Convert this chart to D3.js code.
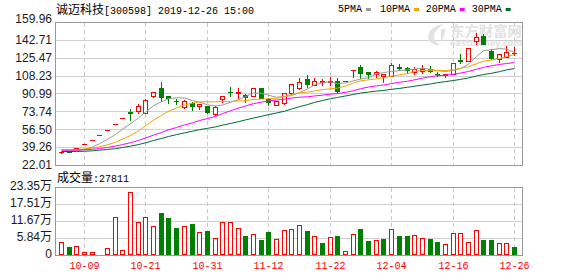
<!DOCTYPE html>
<html>
<head>
<meta charset="utf-8">
<script src="https://cdn.jsdelivr.net/npm/d3@7"></script>
<style>
    body { margin: 0; background: #fff; }
    svg { display: block; }
</style>
</head>
<body>
<svg id="chart" width="578" height="276"></svg>
<script>
"use strict";

const dates = ["09-27", "09-30", "10-08", "10-09", "10-10", "10-11", "10-14", "10-15", "10-16", "10-17",
    "10-18", "10-21", "10-22", "10-23", "10-24", "10-25", "10-28", "10-29", "10-30", "10-31",
    "11-01", "11-04", "11-05", "11-06", "11-07", "11-08", "11-11", "11-12", "11-13", "11-14",
    "11-15", "11-18", "11-19", "11-20", "11-21", "11-22", "11-25", "11-26", "11-27", "11-28",
    "11-29", "12-02", "12-03", "12-04", "12-05", "12-06", "12-09", "12-10", "12-11", "12-12",
    "12-13", "12-16", "12-17", "12-18", "12-19", "12-20", "12-23", "12-24", "12-25", "12-26"];

const open = [34.2, 35.3, 38.3, 42.1, 46.3, 51.0, 56.1, 61.7, 67.8, 72.8,
    74.1, 72.5, 88.6, 96.0, 88.6, 83.8, 77.7, 81.5, 78.9, 78.6,
    71.0, 85.7, 92.7, 91.2, 89.9, 88.6, 96.0, 85.4, 79.9, 82.1,
    91.2, 96.0, 105.0, 99.2, 102.2, 102.1, 103.1, 103.1, 113.2, 116.3,
    111.7, 110.2, 108.2, 108.2, 116.1, 115.9, 111.5, 113.0, 114.3, 109.8,
    109.3, 110.0, 123.2, 122.3, 141.9, 146.7, 132.0, 124.0, 126.5, 129.9];
const high = [35.0, 35.6, 38.3, 42.1, 46.3, 51.0, 56.1, 61.7, 67.8, 76.2,
    80.6, 85.4, 92.5, 101.8, 88.8, 85.7, 84.5, 82.6, 80.8, 78.8,
    78.5, 88.8, 97.6, 96.6, 90.2, 96.3, 96.3, 86.4, 83.6, 91.5,
    100.3, 105.7, 108.9, 105.7, 104.7, 107.2, 105.7, 103.1, 113.4, 118.5,
    111.8, 113.0, 110.0, 120.7, 119.9, 116.8, 116.8, 118.2, 117.5, 112.0,
    109.7, 120.3, 129.0, 134.9, 149.1, 148.1, 133.6, 129.0, 137.1, 136.1];
const low = [33.5, 34.4, 38.3, 42.1, 46.3, 51.0, 56.1, 61.7, 67.8, 65.0,
    72.5, 72.3, 87.4, 84.0, 81.5, 80.6, 77.2, 75.5, 75.8, 72.5,
    70.5, 83.1, 88.6, 87.0, 83.1, 88.2, 86.6, 79.9, 79.5, 80.6,
    90.8, 95.6, 97.6, 98.8, 99.2, 99.2, 92.7, 103.1, 106.6, 105.7,
    105.7, 106.6, 102.4, 108.0, 114.1, 110.5, 109.5, 110.5, 112.0, 107.9,
    106.6, 109.5, 120.1, 122.0, 138.7, 138.5, 124.1, 121.1, 126.3, 128.1];
const close = [34.9, 34.8, 38.3, 42.1, 46.3, 51.0, 56.1, 61.7, 67.8, 72.2,
    79.2, 84.7, 92.2, 87.4, 86.4, 83.3, 84.1, 79.2, 80.6, 73.0,
    78.3, 88.6, 92.2, 92.7, 88.0, 96.0, 87.0, 82.9, 83.3, 91.2,
    99.9, 102.1, 100.2, 103.1, 102.6, 103.1, 93.7, 103.1, 113.4, 111.1,
    109.5, 112.0, 109.8, 118.5, 115.7, 113.7, 114.3, 114.6, 113.0, 109.5,
    109.6, 120.1, 122.8, 134.6, 145.2, 138.7, 124.9, 128.8, 130.7, 130.1];

// 成交量, 万手
const volume = [4.4, 2.6, 3.0, 0.9, 0.9, 0.3, 2.3, 12.9, 1.7, 21.7,
    11.4, 13.2, 9.9, 14.4, 12.7, 9.3, 10.1, 10.6, 7.8, 8.2,
    5.7, 11.2, 11.2, 9.2, 6.5, 7.1, 5.2, 7.9, 5.4, 8.5,
    8.8, 10.2, 8.2, 6.4, 4.1, 6.1, 6.5, 1.3, 7.1, 8.9,
    4.8, 5.2, 5.5, 8.9, 6.5, 6.5, 6.9, 5.8, 5.5, 4.5,
    3.7, 7.6, 7.6, 4.5, 8.6, 5.2, 5.2, 4.0, 4.0, 2.7811];

const ma5 = [35.6, 35.5, 35.8, 37.2, 39.3, 42.5, 46.8, 51.4, 56.6, 61.8,
    67.4, 73.1, 79.2, 83.1, 86.0, 86.8, 86.7, 84.1, 82.7, 80.0,
    79.0, 79.9, 82.5, 85.0, 88.0, 91.5, 91.2, 89.3, 87.4, 88.1,
    88.9, 91.9, 95.3, 99.3, 101.6, 102.2, 100.5, 101.1, 103.2, 104.9,
    106.2, 109.8, 111.2, 112.2, 113.1, 113.9, 114.4, 115.4, 114.3, 113.0,
    112.2, 113.4, 115.0, 119.3, 126.5, 132.3, 133.2, 134.4, 133.7, 130.6];
const ma10 = [36.7, 36.7, 36.9, 37.4, 38.3, 39.6, 41.5, 44.0, 47.0, 50.5,
    55.0, 59.9, 65.3, 69.9, 73.9, 77.1, 79.9, 81.7, 82.9, 83.0,
    82.9, 83.3, 83.3, 83.8, 84.0, 85.3, 85.6, 85.9, 86.2, 88.0,
    90.2, 91.5, 92.3, 93.4, 94.8, 95.5, 96.2, 98.2, 101.2, 103.2,
    104.2, 105.2, 106.1, 107.7, 109.0, 110.1, 112.1, 113.3, 113.2, 113.1,
    113.1, 113.9, 115.2, 116.8, 119.7, 122.2, 123.3, 124.7, 126.5, 128.6];
const ma20 = [36.4, 36.3, 36.4, 36.7, 37.2, 37.9, 38.9, 40.2, 41.7, 43.5,
    45.7, 48.1, 50.8, 53.4, 55.9, 58.2, 60.6, 62.7, 64.9, 66.8,
    68.9, 71.6, 74.3, 76.9, 78.9, 81.2, 82.7, 83.8, 84.6, 85.5,
    86.6, 87.4, 87.8, 88.6, 89.4, 90.4, 90.9, 92.1, 93.7, 95.6,
    97.2, 98.4, 99.2, 100.5, 101.9, 102.8, 104.2, 105.8, 107.2, 108.2,
    108.6, 109.5, 110.7, 112.2, 114.4, 116.2, 117.7, 119.0, 119.9, 120.8];
const ma30 = [35.0, 35.0, 35.1, 35.3, 35.7, 36.3, 37.0, 37.8, 38.9, 40.2,
    41.7, 43.4, 45.6, 47.6, 49.5, 51.3, 53.0, 54.6, 56.1, 57.4,
    58.8, 60.4, 62.1, 63.8, 65.5, 67.3, 69.0, 70.6, 72.2, 73.9,
    76.0, 78.3, 80.3, 82.4, 84.2, 86.0, 87.2, 88.6, 90.1, 91.4,
    92.4, 93.3, 93.9, 95.0, 95.9, 97.0, 98.0, 99.1, 100.2, 101.4,
    102.5, 103.5, 104.6, 106.0, 107.9, 109.3, 110.5, 112.1, 113.7, 115.0];

const priceTicks = [22.01, 39.26, 56.50, 73.74, 90.99, 108.23, 125.47, 142.71, 159.96];
const volumeTicks = [0, 5.84, 11.67, 17.51, 23.35];
const dateTicks = ["10-09", "10-21", "10-31", "11-12", "11-22", "12-04", "12-16", "12-26"];
const maNames = ["5PMA", "10PMA", "20PMA", "30PMA"];

const RED = "#ff0000",
    GREEN = "#008000",
    maColors = ["#999999", "#f5a300", "#ff00ff", "#006b33"],
    maSeries = [ma5, ma10, ma20, ma30],
    left = 55,
    right = 522,
    mainTop = 22,
    mainBottom = 165,
    volTop = 187,
    volBottom = 255;

const svg = d3.select("#chart");

const x = d3.scaleLinear().domain([0, dates.length - 1]).range([61, 514]);
const y = d3.scaleLinear().domain([22.01, 159.96]).range([mainBottom, mainTop]);
const yv = d3.scaleLinear().domain([0, 23.35]).range([volBottom, volTop]);

const cx = i => Math.round(x(i)) + 0.5;
const crisp = v => Math.round(v) + 0.5;

// grid
const grid = svg.append("g").attr("shape-rendering", "crispEdges");

grid.selectAll("line.ph")
    .data(priceTicks)
    .join("line")
    .attr("x1", left).attr("x2", right + 1)
    .attr("y1", d => crisp(y(d))).attr("y2", d => crisp(y(d)))
    .attr("stroke", (d, i) => i === 0 || i === priceTicks.length - 1 ? "#999" : "#d0d0d0");

grid.selectAll("line.vh")
    .data(volumeTicks)
    .join("line")
    .attr("x1", left).attr("x2", right + 1)
    .attr("y1", d => crisp(yv(d))).attr("y2", d => crisp(yv(d)))
    .attr("stroke", (d, i) => i === 0 || i === volumeTicks.length - 1 ? "#999" : "#d0d0d0");

const tickIndex = dateTicks.map(d => dates.indexOf(d));

[[mainTop, mainBottom], [volTop, volBottom]].forEach(([t, b]) => {
    grid.append("g")
        .selectAll("line")
        .data(tickIndex)
        .join("line")
        .attr("x1", d => cx(d)).attr("x2", d => cx(d))
        .attr("y1", t + 1).attr("y2", b)
        .attr("stroke", "#c8c8c8")
        .attr("stroke-dasharray", "4,3");

    grid.append("line")
        .attr("x1", left + 0.5).attr("x2", left + 0.5)
        .attr("y1", t).attr("y2", b + 1)
        .attr("stroke", "#999");
    grid.append("line")
        .attr("x1", right + 0.5).attr("x2", right + 0.5)
        .attr("y1", t).attr("y2", b + 1)
        .attr("stroke", "#999");
});

// watermark
const wm = svg.append("g").attr("fill", "#e2e2e2");
wm.append("path")
    .attr("d", "M444,24 C433,25 426,33 429,40 C431,44 436,46 440,45 C434,42 432,36 436,31 C438,28 441,26 444,24 Z M441,29 L446,29 L441,44 Z");
wm.append("text")
    .attr("x", 450).attr("y", 35.5)
    .attr("font-family", "'Noto Sans CJK SC', sans-serif")
    .attr("font-size", 14).attr("font-weight", "bold")
    .attr("textLength", 72).attr("lengthAdjust", "spacingAndGlyphs")
    .text("东方财富网");
wm.append("text")
    .attr("x", 450).attr("y", 46)
    .attr("font-family", "'DejaVu Sans', sans-serif")
    .attr("font-size", 8.5).attr("font-weight", "bold")
    .attr("textLength", 72).attr("lengthAdjust", "spacingAndGlyphs")
    .text("eastmoney.com");

// candles
const isUp = i => close[i] > open[i] || (close[i] === open[i] && (i === 0 || close[i] >= close[i - 1]));

const candles = svg.append("g")
    .attr("shape-rendering", "crispEdges")
    .selectAll("g")
    .data(d3.range(dates.length))
    .join("g");

candles.append("line")
    .attr("x1", cx).attr("x2", cx)
    .attr("y1", i => Math.round(y(high[i])))
    .attr("y2", i => Math.round(y(low[i])) + 1)
    .attr("stroke", i => isUp(i) ? RED : GREEN);

candles.each(function (i) {
    const g = d3.select(this),
        yo = Math.round(y(open[i])),
        yc = Math.round(y(close[i])),
        top = Math.min(yo, yc),
        h = Math.abs(yo - yc);

    if (h < 1) {
        g.append("rect")
            .attr("x", cx(i) - 2.5).attr("y", top)
            .attr("width", 5).attr("height", 1)
            .attr("fill", isUp(i) ? RED : GREEN);
    } else if (isUp(i)) {
        g.append("rect")
            .attr("x", cx(i) - 2).attr("y", top + 0.5)
            .attr("width", 4).attr("height", h)
            .attr("fill", "#fff").attr("stroke", RED);
    } else {
        g.append("rect")
            .attr("x", cx(i) - 2.5).attr("y", top)
            .attr("width", 5).attr("height", h + 1)
            .attr("fill", GREEN);
    }
});

// moving averages
maSeries.forEach((series, k) => {
    svg.append("path")
        .datum(series)
        .attr("fill", "none")
        .attr("stroke", maColors[k])
        .attr("stroke-width", 1)
        .attr("d", d3.line().x((d, i) => cx(i)).y(d => y(d)));
});

// volume
const volUp = i => i === 0 || close[i] >= close[i - 1];

svg.append("g")
    .attr("shape-rendering", "crispEdges")
    .selectAll("rect")
    .data(d3.range(dates.length))
    .join("rect")
    .attr("x", i => volUp(i) ? cx(i) - 2 : cx(i) - 2.5)
    .attr("y", i => volUp(i) ? crisp(yv(volume[i])) : Math.round(yv(volume[i])))
    .attr("width", i => volUp(i) ? 4 : 5)
    .attr("height", i => volUp(i)
        ? volBottom - 1 - Math.round(yv(volume[i]))
        : volBottom - Math.round(yv(volume[i])))
    .attr("fill", i => volUp(i) ? "#fff" : GREEN)
    .attr("stroke", i => volUp(i) ? RED : "none");

// axes
const priceAxis = svg.append("g")
    .attr("transform", `translate(${left},0)`)
    .call(d3.axisLeft(y).tickValues(priceTicks).tickFormat(d3.format(".2f")).tickSize(0).tickPadding(3));

const volumeAxis = svg.append("g")
    .attr("transform", `translate(${left},0)`)
    .call(d3.axisLeft(yv).tickValues(volumeTicks)
        .tickFormat(d => d === 0 ? "0" : d3.format(".2f")(d) + "万")
        .tickSize(0).tickPadding(3));

[priceAxis, volumeAxis].forEach(ax => {
    ax.select(".domain").remove();
    ax.selectAll("text")
        .attr("fill", "#1a1a1a")
        .attr("font-family", "'Liberation Sans', Arial, 'Noto Sans CJK SC', sans-serif")
        .attr("font-size", 12);
});
priceAxis.selectAll("text").attr("dy", (d, i) => i === priceTicks.length - 1 ? "0.05em" : "0.32em");
volumeAxis.selectAll("text").attr("dy", "0.24em");

const dateAxis = svg.append("g")
    .attr("transform", `translate(0,${volBottom})`)
    .call(d3.axisBottom(x).tickValues(tickIndex).tickFormat(i => dates[i]).tickSize(0).tickPadding(7));
dateAxis.select(".domain").remove();
dateAxis.selectAll(".tick").attr("transform", d => `translate(${cx(d)},0)`);
dateAxis.selectAll("text")
    .attr("fill", RED)
    .attr("font-family", "'Liberation Mono', monospace")
    .attr("font-size", 10);

// title and legend
const title = svg.append("text")
    .attr("x", 56).attr("y", 13.5)
    .attr("fill", "#000");
title.append("tspan")
    .attr("font-family", "'Noto Sans CJK SC', sans-serif")
    .attr("font-size", 12)
    .text("诚迈科技");
title.append("tspan")
    .attr("font-family", "'Liberation Mono', monospace")
    .attr("font-size", 10)
    .text("[300598] 2019-12-26 15:00");

const legendX = [338, 380, 425.7, 471.7];
const legend = svg.append("g")
    .selectAll("g")
    .data(maNames)
    .join("g")
    .attr("transform", (d, i) => `translate(${legendX[i]},0)`);
legend.append("text")
    .attr("y", 12)
    .attr("font-family", "'Liberation Mono', monospace")
    .attr("font-size", 10)
    .attr("fill", "#000")
    .text(d => d);
legend.append("rect")
    .attr("x", d => d.length * 6 + 4)
    .attr("y", 8)
    .attr("width", 5).attr("height", 3)
    .attr("fill", (d, i) => maColors[i]);

const volLabel = svg.append("text")
    .attr("x", 57).attr("y", 181.5)
    .attr("fill", "#000");
volLabel.append("tspan")
    .attr("font-family", "'Noto Sans CJK SC', sans-serif")
    .attr("font-size", 12)
    .text("成交量");
volLabel.append("tspan")
    .attr("font-family", "'Liberation Mono', monospace")
    .attr("font-size", 10)
    .text(":" + Math.round(volume[volume.length - 1] * 10000));
</script>
